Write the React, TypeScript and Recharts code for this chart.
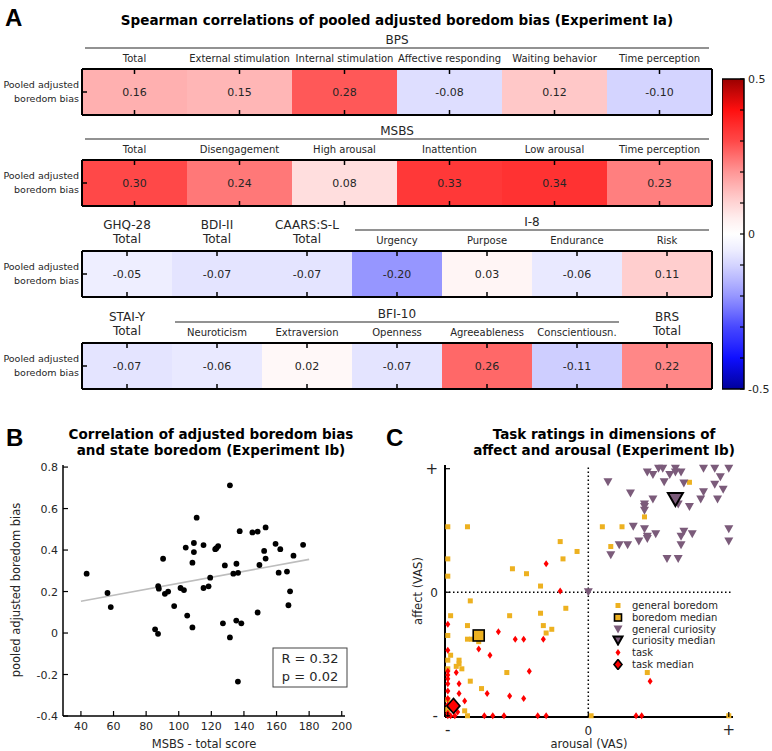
import React from 'react';
import {
  BarChart, Bar, Cell, LabelList, XAxis, YAxis,
  ScatterChart, Scatter, ReferenceLine, Legend,
} from 'recharts';

const FONT = "'DejaVu Sans', Verdana, sans-serif";
const INK = '#262626';

// ---------- panel A: Spearman correlations ----------
const bpsLabels = ['Total', 'External stimulation', 'Internal stimulation', 'Affective responding', 'Waiting behavior', 'Time perception'];
const bpsVals = [0.16, 0.15, 0.28, -0.08, 0.12, -0.10];
const msbsLabels = ['Total', 'Disengagement', 'High arousal', 'Inattention', 'Low arousal', 'Time perception'];
const msbsVals = [0.30, 0.24, 0.08, 0.33, 0.34, 0.23];
const row3Heads = ['GHQ-28', 'BDI-II', 'CAARS:S-L', '', '', '', ''];
const row3Labels = ['Total', 'Total', 'Total', 'Urgency', 'Purpose', 'Endurance', 'Risk'];
const row3Vals = [-0.05, -0.07, -0.07, -0.20, 0.03, -0.06, 0.11];
const row4Heads = ['STAI-Y', '', '', '', '', '', 'BRS'];
const row4Labels = ['Total', 'Neuroticism', 'Extraversion', 'Openness', 'Agreeableness', 'Conscientiousn.', 'Total'];
const row4Vals = [-0.07, -0.06, 0.02, -0.07, 0.26, -0.11, 0.22];
const rowName = ['Pooled adjusted', 'boredom bias'];
const groups = [
  { name: 'BPS', row: 0, from: 0, to: 6, n: 6 },
  { name: 'MSBS', row: 1, from: 0, to: 6, n: 6 },
  { name: 'I-8', row: 2, from: 3, to: 7, n: 7 },
  { name: 'BFI-10', row: 3, from: 1, to: 6, n: 7 },
];
const cbarRange = [-0.5, 0.5];
const cbarTicks = [-0.5, -0.4, -0.3, -0.2, -0.1, 0, 0.1, 0.2, 0.3, 0.4, 0.5];
const cbarLabels = [-0.5, 0, 0.5];

// ---------- panel B: MSBS total vs pooled adjusted boredom bias ----------
const msbsTotal = [43.5, 56.3, 58.3, 85.5, 87.3, 87.4, 87.8, 90.4, 91.5, 93.5, 97.2, 101.1, 103.2, 104.3, 105.2, 108.4, 108.4, 109.3, 109.3, 111.0, 115.2, 115.2, 118.3, 119.3, 122.4, 123.1, 124.2, 127.1, 128.3, 131.4, 131.4, 133.5, 135.4, 135.3, 136.4, 136.3, 137.4, 138.4, 145.2, 148.4, 148.4, 149.5, 152.4, 153.3, 153.3, 159.4, 161.3, 162.3, 166.4, 167.3, 168.3, 170.4, 176.3];
const boredomBias = [0.286, 0.193, 0.125, 0.018, -0.004, 0.226, 0.214, 0.358, 0.189, 0.200, 0.130, 0.217, 0.207, 0.412, 0.084, 0.339, 0.027, 0.434, 0.390, 0.556, 0.424, 0.217, 0.225, 0.267, 0.404, 0.409, 0.419, 0.047, 0.326, 0.712, -0.021, 0.286, 0.334, 0.060, 0.290, -0.234, 0.491, 0.047, 0.485, 0.489, 0.099, 0.328, 0.396, 0.509, 0.359, 0.430, 0.291, 0.404, 0.296, 0.134, 0.201, 0.373, 0.425];
const fitX = [40, 180];
const fitY = [0.153, 0.355];
const bXTicks = [40, 60, 80, 100, 120, 140, 160, 180, 200];
const bYTicks = [-0.4, -0.2, 0, 0.2, 0.4, 0.6, 0.8];

// ---------- panel C: affect / arousal ratings ----------
const boredomX = [-1.0, -0.86, -1.0, -1.0, -0.54, -0.44, -0.34, -0.20, -0.18, -0.08, 0.72, 0.40, 0.10, 0.24, 0.16, -0.84, -0.98, -0.56, -0.34, -0.16, -0.86, -0.32, -0.26, -0.30, -1.0, -0.86, -0.83, -0.78, -0.98, -1.0, -0.92, -0.92, -0.94, -0.90, -1.0, -0.84, -0.58, -0.76, -1.0, -0.88, -0.86, -1.0, 0.42, 0.02, 1.0];
const boredomY = [0.53, 0.53, 0.27, 0.13, 0.19, 0.15, 0.05, 0.41, 0.27, 0.33, 0.89, 0.61, 0.53, 0.53, 0.37, -0.07, -0.19, -0.19, -0.17, -0.13, -0.27, -0.27, -0.30, -0.33, -0.35, -0.38, -0.38, -0.40, -0.51, -0.55, -0.55, -0.58, -0.60, -0.62, -0.62, -0.72, -0.65, -0.78, -0.87, -0.96, -1.0, -0.95, -0.65, -1.0, -1.0];
const curiosityX = [0, 0.14, 0.30, 0.40, 0.40, 0.40, 0.32, 0.40, 0.42, 0.42, 0.48, 0.36, 0.28, 0.22, 0.16, 0.46, 0.42, 0.46, 0.50, 0.53, 0.54, 0.58, 0.62, 0.62, 0.66, 0.68, 0.72, 0.68, 0.66, 0.66, 0.74, 0.56, 0.64, 0.64, 0.80, 0.82, 0.82, 0.90, 0.90, 0.94, 0.96, 0.92, 1.0, 1.0, 1.0];
const curiosityY = [0, 0.89, 0.80, 0.71, 0.69, 0.66, 0.53, 0.51, 0.45, 0.43, 0.47, 0.41, 0.38, 0.38, 0.30, 0.75, 0.97, 0.95, 1.0, 1.0, 0.89, 0.95, 1.0, 0.97, 0.97, 0.88, 0.69, 0.49, 0.45, 0.38, 0.47, 0.27, 0.27, 0.71, 0.75, 0.81, 1.0, 1.0, 0.87, 0.93, 0.83, 0.75, 1.0, 0.51, 0.41];
const taskX = [-0.30, -0.20, -1.0, -0.64, -0.52, -0.46, -0.32, -0.78, -0.70, -1.0, -1.0, -1.0, -1.0, -1.0, -1.0, -1.0, -1.0, -1.0, -0.94, -0.92, -0.42, -0.92, -0.72, -0.56, -0.46, -0.88, -1.0, -0.98, -0.95, -0.93, -0.74, -0.68, -0.60, -0.36, -0.30, 0.44, 0.34, 0.38];
const taskY = [0.23, 0.01, -0.26, -0.32, -0.38, -0.38, -0.38, -0.46, -0.51, -0.47, -0.64, -0.67, -0.70, -0.74, -0.80, -0.86, -0.91, -0.98, -0.65, -0.74, -0.64, -0.82, -0.82, -0.84, -0.86, -0.88, -1.0, -1.0, -1.0, -0.97, -1.0, -1.0, -1.0, -1.0, -1.0, -0.72, -1.0, -1.0];
const boredomMedian = [{ x: -0.78, y: -0.35 }];
const curiosityMedian = [{ x: 0.62, y: 0.75 }];
const taskMedian = [{ x: -0.96, y: -0.92 }];
const cTicks = [-1, 0, 1];
const cTickText = ['-', '0', '+'];
const legendItems = ['general boredom', 'boredom median', 'general curiosity', 'curiosity median', 'task', 'task median'];

// ---------- layout ----------
const X0 = 82;
const X1 = 712;
const ROW_TOP = [69, 160, 251, 343];
const ROW_H = 46;
const AX_TOP = 40;
const TICK = 5;
const CB_TOP = ROW_TOP[0] + 10;
const CB_BOT = ROW_TOP[3] + ROW_H;

const ORANGE = '#EDB120';
const PURPLE = '#7B5B7A';
const RED = '#FF0000';

// red-white-blue map, value -> colour
const mapStops = [0, 0.05, 0.1, 0.15, 0.2, 0.25, 0.3, 0.35, 0.4];
const mapLevels = [255, 238, 212, 182, 150, 112, 72, 45, 15];
function rdbu(v: number) {
  const a = Math.min(Math.abs(v), 0.5);
  let main = 255;
  let other = 0;
  if (a <= 0.4) {
    let k = 0;
    while (k < mapStops.length - 2 && a > mapStops[k + 1]) k++;
    const t = (a - mapStops[k]) / (mapStops[k + 1] - mapStops[k]);
    other = Math.round(mapLevels[k] + t * (mapLevels[k + 1] - mapLevels[k]));
  } else {
    const t = (a - 0.4) / 0.1;
    main = Math.round(255 - t * 100);
    other = Math.round(15 * (1 - t));
  }
  return v >= 0 ? `rgb(${main},${other},${other})` : `rgb(${other},${other},${main})`;
}

const fmt2 = (v: any) => Number(v).toFixed(2);
const txt = { fontFamily: FONT, fill: INK } as const;

function HeatRow({ top, labels, heads, vals }: { top: number; labels: string[]; heads?: string[]; vals: number[] }) {
  const data = vals.map((r, i) => ({ key: 'c' + i, r, cell: 1 }));
  const idx = (v: any) => Number(String(v).slice(1));
  const topTick = (p: any) => {
    const i = idx(p.payload.value);
    const head = heads ? heads[i] : '';
    return (
      <g>
        <line x1={p.x} x2={p.x} y1={p.y} y2={p.y + TICK} stroke="#000" strokeWidth={1.5} />
        {head ? <text x={p.x} y={p.y - 22} textAnchor="middle" fontSize={12} {...txt}>{head}</text> : null}
        <text x={p.x} y={p.y - (head ? 8 : 7)} textAnchor="middle" fontSize={head ? 12 : 10} {...txt}>{labels[i]}</text>
      </g>
    );
  };
  const bottomTick = (p: any) => (
    <line x1={p.x} x2={p.x} y1={p.y} y2={p.y - TICK} stroke="#000" strokeWidth={1.5} />
  );
  const leftTick = (p: any) => (
    <g>
      <line x1={p.x} x2={p.x + TICK} y1={p.y} y2={p.y} stroke="#000" strokeWidth={1.5} />
      <text x={p.x - 3} y={p.y - 4} textAnchor="end" fontSize={9.5} {...txt}>{rowName[0]}</text>
      <text x={p.x - 3} y={p.y + 10} textAnchor="end" fontSize={9.5} {...txt}>{rowName[1]}</text>
    </g>
  );
  const rightTick = (p: any) => (
    <line x1={p.x} x2={p.x - TICK} y1={p.y} y2={p.y} stroke="#000" strokeWidth={1.5} />
  );
  const axisLine = { stroke: '#000', strokeWidth: 2 };
  return (
    <div style={{ position: 'absolute', left: 0, top: top - AX_TOP }}>
      <BarChart width={X1 + 8} height={AX_TOP + ROW_H + 3} data={data} barCategoryGap={0}
        margin={{ top: 0, right: 0, bottom: 0, left: 0 }}>
        <Bar xAxisId="t" yAxisId="l" dataKey="cell" isAnimationActive={false}>
          {data.map((d) => <Cell key={d.key} fill={rdbu(d.r)} />)}
          <LabelList dataKey="r" position="center" formatter={fmt2} fill={INK} fontSize={11} fontFamily={FONT} />
        </Bar>
        <XAxis xAxisId="t" dataKey="key" orientation="top" height={AX_TOP} interval={0}
          axisLine={axisLine} tickLine={false} tickSize={0} tickMargin={0} tick={topTick} />
        <XAxis xAxisId="b" dataKey="key" orientation="bottom" height={3} interval={0}
          axisLine={axisLine} tickLine={false} tickSize={0} tickMargin={0} tick={bottomTick} />
        <YAxis yAxisId="l" type="number" domain={[0, 1]} ticks={[0.5]} width={X0}
          axisLine={axisLine} tickLine={false} tickSize={0} tickMargin={0} tick={leftTick} />
        <YAxis yAxisId="r" orientation="right" type="number" domain={[0, 1]} ticks={[0.5]} width={8}
          axisLine={axisLine} tickLine={false} tickSize={0} tickMargin={0} tick={rightTick} />
      </BarChart>
    </div>
  );
}

function ColorBar() {
  const data = [{ key: 'cb', range: cbarRange }];
  const rightTick = (p: any) => {
    const v = Number(p.payload.value);
    const show = cbarLabels.some((l) => Math.abs(l - v) < 1e-6);
    return (
      <g>
        <line x1={p.x} x2={p.x - 4} y1={p.y} y2={p.y} stroke="#000" strokeWidth={1.2} />
        {show ? <text x={p.x + 4} y={p.y + 4} fontSize={11} {...txt}>{v === 0 ? '0' : String(v)}</text> : null}
      </g>
    );
  };
  return (
    <div style={{ position: 'absolute', left: 722, top: CB_TOP - 6 }}>
      <BarChart width={50} height={CB_BOT - CB_TOP + 12} data={data} barCategoryGap={0}
        margin={{ top: 6, right: 0, bottom: 6, left: 0 }}>
        <defs>
          <linearGradient id="cbGrad" x1="0" y1="0" x2="0" y2="1">
            {[...Array(41)].map((_, i) => {
              const v = cbarRange[1] - i * 0.025;
              return <stop key={i} offset={`${(i / 40) * 100}%`} stopColor={rdbu(v)} />;
            })}
          </linearGradient>
        </defs>
        <XAxis dataKey="key" hide />
        <Bar dataKey="range" fill="url(#cbGrad)" stroke="#000" strokeWidth={1.5} isAnimationActive={false} />
        <YAxis orientation="right" type="number" domain={cbarRange} ticks={cbarTicks} width={28}
          axisLine={false} tickLine={false} tickSize={0} tickMargin={0} tick={rightTick} interval={0} />
      </BarChart>
    </div>
  );
}

function PanelB() {
  const pts = msbsTotal.map((x, i) => ({ x, y: boredomBias[i] }));
  const axisLine = { stroke: '#000', strokeWidth: 1.5 };
  const xTick = (p: any) => (
    <g>
      <line x1={p.x} x2={p.x} y1={p.y} y2={p.y - TICK} stroke="#000" strokeWidth={1.2} />
      <text x={p.x} y={p.y + 14} textAnchor="middle" fontSize={11} {...txt}>{p.payload.value}</text>
    </g>
  );
  const yTick = (p: any) => (
    <g>
      <line x1={p.x} x2={p.x + TICK} y1={p.y} y2={p.y} stroke="#000" strokeWidth={1.2} />
      <text x={p.x - 5} y={p.y + 4} textAnchor="end" fontSize={11} {...txt}>{p.payload.value}</text>
    </g>
  );
  return (
    <div style={{ position: 'absolute', left: 0, top: 440 }}>
      <ScatterChart width={360} height={311} margin={{ top: 25, right: 15, bottom: 0, left: 0 }}>
        <XAxis type="number" dataKey="x" domain={[29, 202]} ticks={bXTicks} height={35} interval={0}
          axisLine={axisLine} tickLine={false} tickSize={0} tickMargin={0} tick={xTick} />
        <YAxis type="number" dataKey="y" domain={[-0.4, 0.81]} ticks={bYTicks} width={63} interval={0}
          axisLine={axisLine} tickLine={false} tickSize={0} tickMargin={0} tick={yTick} />
        <ReferenceLine segment={[{ x: fitX[0], y: fitY[0] }, { x: fitX[1], y: fitY[1] }]}
          stroke="#bdbdbd" strokeWidth={1.6} />
        <Scatter data={pts} fill="#000" isAnimationActive={false}
          shape={(p: any) => <circle cx={p.cx} cy={p.cy} r={2.9} fill="#000" />} />
      </ScatterChart>
    </div>
  );
}

const squareShape = (s: number, stroke?: string) => (p: any) => (
  <rect x={p.cx - s / 2} y={p.cy - s / 2} width={s} height={s} fill={ORANGE}
    stroke={stroke || 'none'} strokeWidth={stroke ? 1.6 : 0} />
);
const triShape = (w: number, h: number, stroke?: string) => (p: any) => (
  <path d={`M${p.cx - w / 2},${p.cy - h / 2}L${p.cx + w / 2},${p.cy - h / 2}L${p.cx},${p.cy + h / 2}Z`}
    fill={PURPLE} stroke={stroke || 'none'} strokeWidth={stroke ? 2 : 0} />
);
const diaShape = (w: number, h: number, stroke?: string) => (p: any) => (
  <path d={`M${p.cx},${p.cy - h / 2}L${p.cx + w / 2},${p.cy}L${p.cx},${p.cy + h / 2}L${p.cx - w / 2},${p.cy}Z`}
    fill={RED} stroke={stroke || 'none'} strokeWidth={stroke ? 1.6 : 0} />
);
const legendShapes = [
  squareShape(5), squareShape(7, '#000'), triShape(9, 8), triShape(9, 8, '#000'), diaShape(5, 7), diaShape(8, 10, '#000'),
];

function PanelC() {
  const boredom = boredomX.map((x, i) => ({ x, y: boredomY[i] }));
  const curiosity = curiosityX.map((x, i) => ({ x, y: curiosityY[i] }));
  const task = taskX.map((x, i) => ({ x, y: taskY[i] }));
  const axisLine = { stroke: '#000', strokeWidth: 2 };
  const xTick = (p: any) => {
    const i = cTicks.indexOf(Number(p.payload.value));
    return (
      <g>
        <line x1={p.x} x2={p.x} y1={p.y} y2={p.y - TICK} stroke="#000" strokeWidth={1.2} />
        <text x={p.x} y={p.y + 18} textAnchor="middle" fontSize={i === 1 ? 12 : 15} {...txt}>{cTickText[i]}</text>
      </g>
    );
  };
  const yTick = (p: any) => {
    const i = cTicks.indexOf(Number(p.payload.value));
    return (
      <g>
        <line x1={p.x} x2={p.x + TICK} y1={p.y} y2={p.y} stroke="#000" strokeWidth={1.2} />
        <text x={p.x - 7} y={p.y + 5} textAnchor="end" fontSize={i === 1 ? 12 : 15} {...txt}>{cTickText[i]}</text>
      </g>
    );
  };
  const legend = () => (
    <div style={{ fontFamily: FONT, fontSize: 10, color: INK }}>
      {legendItems.map((t, i) => (
        <div key={t} style={{ display: 'flex', alignItems: 'center', height: 11.7, whiteSpace: 'nowrap' }}>
          <svg width={14} height={11}>{legendShapes[i]({ cx: 7, cy: 5.5 })}</svg>
          <span style={{ marginLeft: 7 }}>{t}</span>
        </div>
      ))}
    </div>
  );
  return (
    <div style={{ position: 'absolute', left: 390, top: 440 }}>
      <ScatterChart width={350} height={311} margin={{ top: 25, right: 7, bottom: 0, left: 0 }}>
        <XAxis type="number" dataKey="x" domain={[-1.02, 1.03]} ticks={cTicks} height={34} interval={0}
          axisLine={axisLine} tickLine={false} tickSize={0} tickMargin={0} tick={xTick} />
        <YAxis type="number" dataKey="y" domain={[-1.01, 1.03]} ticks={cTicks} width={55} interval={0}
          axisLine={axisLine} tickLine={false} tickSize={0} tickMargin={0} tick={yTick} />
        <ReferenceLine x={0} stroke="#000" strokeWidth={1.5} strokeDasharray="1.5 2.5" />
        <ReferenceLine y={0} stroke="#000" strokeWidth={1.5} strokeDasharray="1.5 2.5" />
        <Scatter name="general boredom" data={boredom} isAnimationActive={false} shape={squareShape(5)} />
        <Scatter name="general curiosity" data={curiosity} isAnimationActive={false} shape={triShape(9, 8)} />
        <Scatter name="task" data={task} isAnimationActive={false} shape={diaShape(5, 7)} />
        <Scatter name="boredom median" data={boredomMedian} isAnimationActive={false} shape={squareShape(11, '#000')} />
        <Scatter name="curiosity median" data={curiosityMedian} isAnimationActive={false} shape={triShape(15, 13, '#000')} />
        <Scatter name="task median" data={taskMedian} isAnimationActive={false} shape={diaShape(13, 15, '#000')} />
        <Legend layout="vertical" align="center" verticalAlign="middle" content={legend}
          wrapperStyle={{ position: 'absolute', left: 221, top: 160, width: 130 }} />
      </ScatterChart>
    </div>
  );
}

export default function App() {
  const bold = { fontFamily: FONT, fontWeight: 700, fill: '#000' } as const;
  const letter = { fontFamily: "'Liberation Sans', Arial, sans-serif", fontWeight: 700, fontSize: 24, fill: '#000' } as const;
  return (
    <div style={{ position: 'absolute', left: 0, top: 0, width: 772, height: 751, background: '#fff', overflow: 'hidden' }}>
      <HeatRow top={ROW_TOP[0]} labels={bpsLabels} vals={bpsVals} />
      <HeatRow top={ROW_TOP[1]} labels={msbsLabels} vals={msbsVals} />
      <HeatRow top={ROW_TOP[2]} labels={row3Labels} heads={row3Heads} vals={row3Vals} />
      <HeatRow top={ROW_TOP[3]} labels={row4Labels} heads={row4Heads} vals={row4Vals} />
      <ColorBar />
      <PanelB />
      <PanelC />
      <svg width={772} height={751} style={{ position: 'absolute', left: 0, top: 0, pointerEvents: 'none' }}>
        <text x={5} y={26} {...letter}>A</text>
        <text x={397} y={25} textAnchor="middle" fontSize={13.5} {...bold}>
          Spearman correlations of pooled adjusted boredom bias (Experiment Ia)
        </text>
        {groups.map((g) => {
          const cw = (X1 - X0) / g.n;
          const a = X0 + g.from * cw + 3;
          const b = X0 + g.to * cw - 3;
          const top = ROW_TOP[g.row];
          return (
            <g key={g.name}>
              <text x={(a + b) / 2} y={top - 25} textAnchor="middle" fontSize={12} {...txt}>{g.name}</text>
              <line x1={a} x2={b} y1={top - 21} y2={top - 21} stroke="#6e6e6e" strokeWidth={1.5} />
            </g>
          );
        })}
        <text x={6} y={446} {...letter}>B</text>
        <text x={211} y={439} textAnchor="middle" fontSize={13.5} {...bold}>Correlation of adjusted boredom bias</text>
        <text x={211} y={455} textAnchor="middle" fontSize={13.5} {...bold}>and state boredom (Experiment Ib)</text>
        <text x={20} y={590} transform="rotate(-90 20 590)" textAnchor="middle" fontSize={11.5} {...txt}>
          pooled adjusted boredom bias
        </text>
        <text x={204} y={748} textAnchor="middle" fontSize={11.5} {...txt}>MSBS - total score</text>
        <rect x={273} y={648} width={74} height={39} fill="#fff" stroke="#444" strokeWidth={1} />
        <text x={310} y={663} textAnchor="middle" fontSize={13} {...txt}>R = 0.32</text>
        <text x={310} y={681} textAnchor="middle" fontSize={13} {...txt}>p = 0.02</text>
        <text x={386} y={446} {...letter}>C</text>
        <text x={604} y={439} textAnchor="middle" fontSize={13.5} {...bold}>Task ratings in dimensions of</text>
        <text x={604} y={455} textAnchor="middle" fontSize={13.5} {...bold}>affect and arousal (Experiment Ib)</text>
        <text x={422} y={591} transform="rotate(-90 422 591)" textAnchor="middle" fontSize={11.5} {...txt}>affect (VAS)</text>
        <text x={589} y={748} textAnchor="middle" fontSize={11.5} {...txt}>arousal (VAS)</text>
      </svg>
    </div>
  );
}
